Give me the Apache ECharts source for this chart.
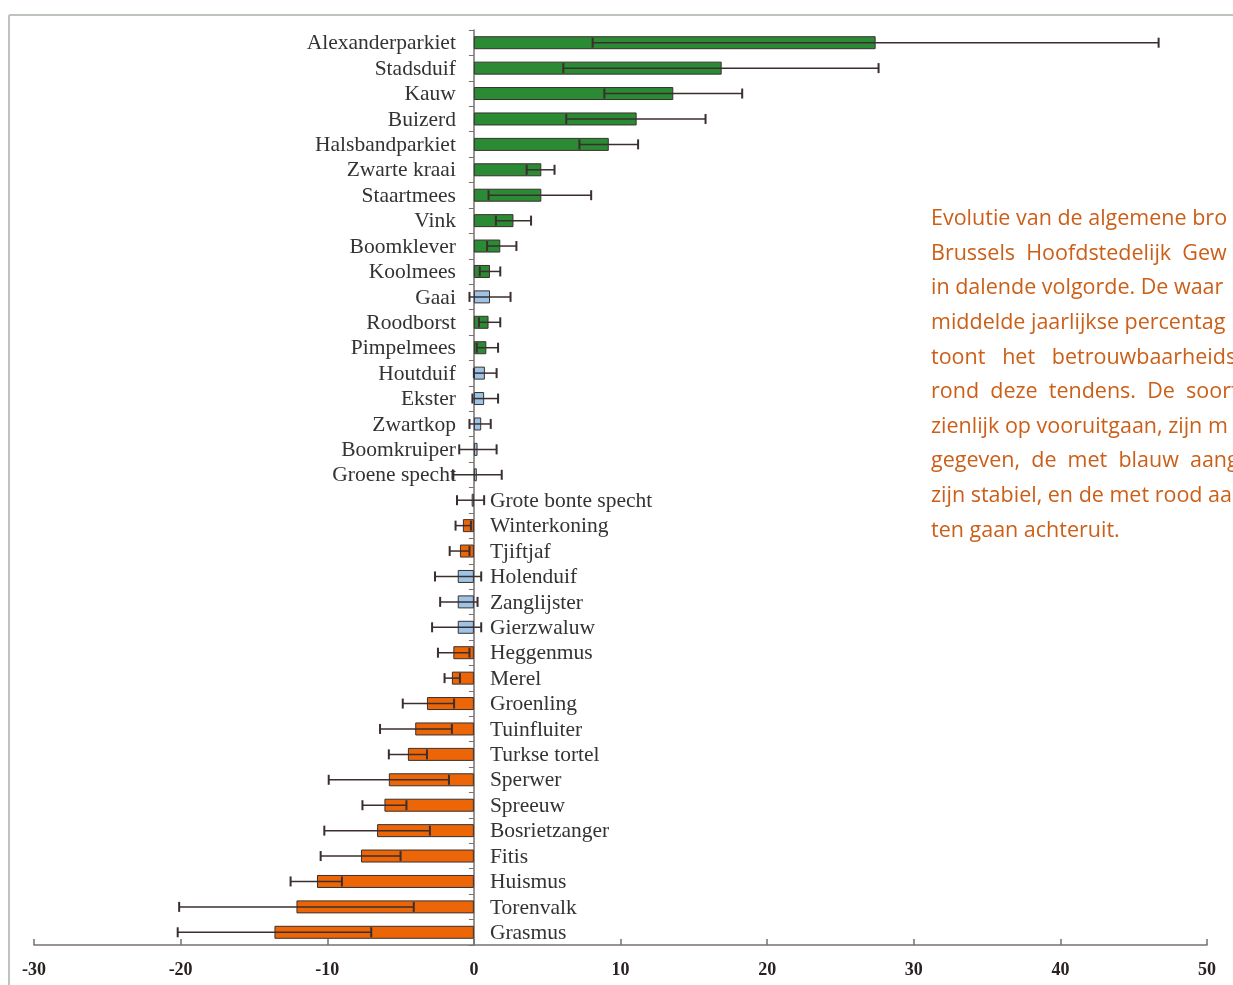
<!DOCTYPE html>
<html>
<head>
<meta charset="utf-8">
<script src="https://cdn.jsdelivr.net/npm/echarts@6/dist/echarts.min.js"></script>
<style>
html,body{margin:0;padding:0;background:#fff;}
#chart{width:1233px;height:985px;}
</style>
</head>
<body>
<div id="chart"></div>
<script>
const categories = ["Alexanderparkiet","Stadsduif","Kauw","Buizerd","Halsbandparkiet","Zwarte kraai","Staartmees","Vink","Boomklever","Koolmees","Gaai","Roodborst","Pimpelmees","Houtduif","Ekster","Zwartkop","Boomkruiper","Groene specht","Grote bonte specht","Winterkoning","Tjiftjaf","Holenduif","Zanglijster","Gierzwaluw","Heggenmus","Merel","Groenling","Tuinfluiter","Turkse tortel","Sperwer","Spreeuw","Bosrietzanger","Fitis","Huismus","Torenvalk","Grasmus"];
const values = [27.4,16.9,13.6,11.1,9.2,4.6,4.6,2.7,1.8,1.1,1.1,1.0,0.85,0.75,0.7,0.5,0.25,0.2,-0.15,-0.75,-0.95,-1.1,-1.1,-1.1,-1.4,-1.5,-3.2,-4.0,-4.5,-5.8,-6.1,-6.6,-7.7,-10.7,-12.1,-13.6];
const lows = [8.1,6.1,8.9,6.3,7.2,3.6,1.0,1.5,0.9,0.4,-0.3,0.35,0.2,0.0,-0.1,-0.3,-1.0,-1.4,-1.15,-1.25,-1.65,-2.65,-2.3,-2.85,-2.45,-2.0,-4.85,-6.4,-5.8,-9.9,-7.6,-10.2,-10.45,-12.5,-20.1,-20.2];
const highs = [46.7,27.6,18.3,15.8,11.2,5.5,8.0,3.9,2.9,1.8,2.5,1.8,1.65,1.55,1.65,1.15,1.55,1.9,0.7,-0.2,-0.3,0.5,0.25,0.5,-0.3,-0.95,-1.35,-1.5,-3.2,-1.7,-4.6,-3.0,-5.0,-9.0,-4.1,-7.0];
const status = ["up","up","up","up","up","up","up","up","up","up","stable","up","up","stable","stable","stable","stable","stable","stable","down","down","stable","stable","stable","down","down","down","down","down","down","down","down","down","down","down","down"];
const xTicks = {min:-30, max:50, interval:10};
const captionLines = [
  "Evolutie van de algemene bro",
  "Brussels  Hoofdstedelijk  Gew",
  "in dalende volgorde. De waar",
  "middelde jaarlijkse percentag",
  "toont   het   betrouwbaarheids",
  "rond  deze  tendens.  De  soort",
  "zienlijk op vooruitgaan, zijn m",
  "gegeven,  de  met  blauw  aang",
  "zijn stabiel, en de met rood aa",
  "ten gaan achteruit."
];

const colorMap = {up:'#2b8a34', stable:'#9dc3e6', down:'#ec6608'};
const chart = echarts.init(document.getElementById('chart'));

const barData = values.map((v,i)=>({value:v, itemStyle:{color:colorMap[status[i]]}}));
const errData = values.map((v,i)=>[lows[i], highs[i], i]);
const labelData = values.map((v,i)=>[0, i, v]);

const serif = '"Liberation Serif","DejaVu Serif",serif';
const inkColor = '#3a2e2e';

const graphics = [
  {type:'line', shape:{x1:9,y1:15,x2:1233,y2:15}, style:{stroke:'#bcc4bc', lineWidth:2}, silent:true},
  {type:'line', shape:{x1:9,y1:15,x2:9,y2:985}, style:{stroke:'#bcc4bc', lineWidth:2}, silent:true}
];
captionLines.forEach((t,k)=>{
  graphics.push({type:'text', left:931, top:208 + k*34.6,
    style:{text:t, fill:'#cc5f18', font:'21.5px "Open Sans", Lato, sans-serif'}});
});

chart.setOption({
  animation:false,
  graphic: graphics,
  grid:{left:34, right:26, top:30, bottom:40, containLabel:false},
  xAxis:{
    type:'value', min:xTicks.min, max:xTicks.max, interval:xTicks.interval,
    axisLine:{show:true, lineStyle:{color:'#7a7070', width:1.5}},
    axisTick:{show:true, inside:true, length:6, lineStyle:{color:'#7a7070', width:1.5}},
    splitLine:{show:false},
    axisLabel:{color:'#2a2222', fontFamily:serif, fontWeight:'bold', fontSize:18, margin:16}
  },
  yAxis:{
    type:'category', data:categories, inverse:true,
    axisLine:{show:true, onZero:true, lineStyle:{color:'#7a7070', width:1.5}},
    axisTick:{show:true, length:5, lineStyle:{color:'#7a7070'}},
    axisLabel:{show:false}
  },
  series:[
    {
      type:'bar', data:barData, barWidth:13, z:2,
      itemStyle:{borderColor:'#3a3030', borderWidth:1}
    },
    {
      type:'custom', data:errData, z:3,
      encode:{x:[0,1], y:2},
      renderItem:function(params, api){
        const i = api.value(2);
        const p1 = api.coord([api.value(0), i]);
        const p2 = api.coord([api.value(1), i]);
        const h = 5;
        const st = {stroke:inkColor, lineWidth:1.5};
        return {type:'group', children:[
          {type:'line', shape:{x1:p1[0],y1:p1[1],x2:p2[0],y2:p2[1]}, style:st},
          {type:'line', shape:{x1:p1[0],y1:p1[1]-h,x2:p1[0],y2:p1[1]+h}, style:{stroke:inkColor, lineWidth:2}},
          {type:'line', shape:{x1:p2[0],y1:p2[1]-h,x2:p2[0],y2:p2[1]+h}, style:{stroke:inkColor, lineWidth:2}}
        ]};
      }
    },
    {
      type:'custom', data:labelData, z:4,
      encode:{x:0, y:1},
      renderItem:function(params, api){
        const i = api.value(1);
        const v = api.value(2);
        const p = api.coord([0, i]);
        const pos = v >= 0;
        return {type:'text', style:{
          text:categories[i],
          x: pos ? p[0]-18 : p[0]+16,
          y: p[1] + 1,
          align: pos ? 'right' : 'left',
          verticalAlign:'middle',
          fill:'#333333',
          font:'21.5px ' + serif
        }};
      }
    }
  ]
});
</script>
</body>
</html>
